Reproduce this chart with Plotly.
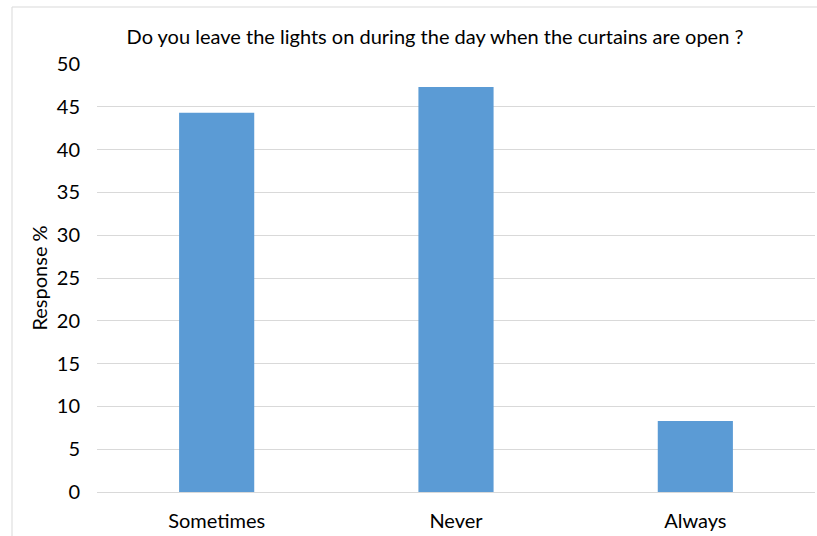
import plotly.graph_objects as go

categories = ["Sometimes", "Never", "Always"]
response_pct = [44.3, 47.3, 8.3]
y_ticks = [0, 5, 10, 15, 20, 25, 30, 35, 40, 45, 50]

W, H = 817, 536
L, R, T, B = 97, 2, 64, 44

fig = go.Figure(
    go.Bar(
        x=categories,
        y=response_pct,
        width=0.314,
        marker=dict(color="#5b9bd5", line=dict(width=0)),
    )
)

fig.update_layout(
    width=W,
    height=H,
    margin=dict(l=L, r=R, t=T, b=B, autoexpand=False),
    paper_bgcolor="white",
    plot_bgcolor="white",
    font=dict(family="Lato, Carlito, 'Open Sans', sans-serif", size=20, color="#000000"),
    showlegend=False,
    title=dict(
        text="Do you leave the lights on during the day when the curtains are open ?",
        x=435 / W,
        xanchor="center",
        y=1 - 37 / H,
        yanchor="middle",
        font=dict(size=20, color="#000000"),
    ),
    xaxis=dict(
        showgrid=False,
        showline=True,
        linecolor="#d9d9d9",
        linewidth=1,
        ticks="",
        ticklabelstandoff=11,
        tickfont=dict(size=20),
        range=[-0.5, 2.5],
        fixedrange=True,
    ),
    yaxis=dict(
        range=[0, 50],
        tickvals=y_ticks,
        showgrid=True,
        gridcolor="#d9d9d9",
        gridwidth=1,
        zeroline=False,
        showline=False,
        ticks="",
        ticklabelstandoff=16,
        tickfont=dict(size=20),
        title=dict(text="Response %", font=dict(size=20), standoff=3),
    ),
)

# chart frame around the whole figure area
fig.add_shape(
    type="rect",
    xref="paper", yref="paper",
    x0=(12 - L) / (W - L - R), x1=(W + 5 - L) / (W - L - R),
    y0=-(H + 5 - (H - B)) / (H - T - B), y1=1 + (T - 7) / (H - T - B),
    line=dict(color="#d9d9d9", width=1),
    fillcolor="rgba(0,0,0,0)",
    layer="below",
)

fig.write_html("out.html")
